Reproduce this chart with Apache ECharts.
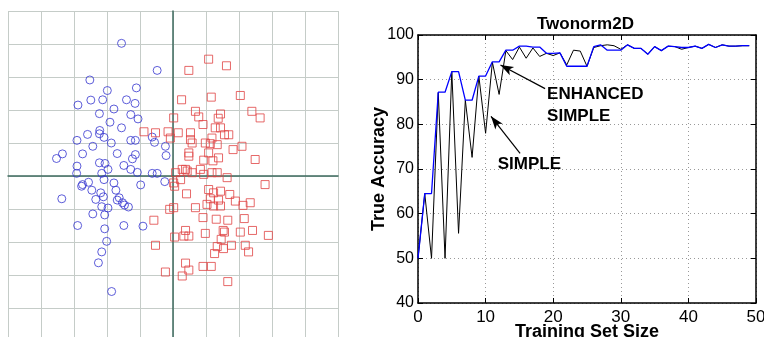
<!DOCTYPE html>
<html>
<head>
<meta charset="utf-8">
<script src="https://cdn.jsdelivr.net/npm/echarts@6/dist/echarts.min.js"></script>
<style>
  html, body { margin: 0; padding: 0; background: #fff; }
  #main { width: 764px; height: 337px; }
</style>
</head>
<body>
<div id="main"></div>
<script>
// left panel: two gaussian classes
var blueClass = [
    [-1.56, 4.02], [-0.48, 3.20], [-2.52, 2.91], [-1.99, 2.59], [-1.11, 2.67],
    [-2.88, 2.15], [-2.49, 2.30], [-2.13, 2.31], [-1.41, 2.31], [-1.15, 2.20],
    [-1.79, 2.03], [-2.23, 1.89], [-1.28, 1.86], [-1.06, 1.73], [-1.91, 1.63],
    [-2.22, 1.38], [-1.56, 1.46], [-2.23, 1.28], [-2.59, 1.26], [-2.09, 1.17],
    [-2.91, 1.08], [-1.87, 1.00], [-1.28, 1.08], [-1.14, 1.08], [-2.43, 0.90],
    [-0.63, 1.18], [-0.56, 1.02], [-2.74, 0.67], [-1.69, 0.68], [-3.35, 0.67],
    [-3.53, 0.53], [-1.14, 0.65], [-1.23, 0.52], [-0.23, 0.90], [-0.21, 0.62],
    [-2.91, 0.30], [-2.23, 0.40], [-2.06, 0.38], [-1.49, 0.32], [-2.92, 0.08],
    [-1.97, 0.20], [-2.16, 0.08], [-1.28, 0.20], [-1.08, 0.11], [-0.63, 0.08],
    [-0.48, 0.08], [-2.74, -0.26], [-2.77, -0.31], [-2.56, -0.19], [-2.09, -0.11],
    [-1.79, -0.21], [-0.98, -0.27], [-0.25, -0.17], [-3.37, -0.69], [-2.46, -0.43],
    [-2.19, -0.51], [-2.11, -0.63], [-2.34, -0.71], [-1.73, -0.43], [-1.69, -0.73],
    [-1.63, -0.66], [-1.53, -0.81], [-1.35, -0.94], [-1.47, -0.88], [-2.16, -0.93],
    [-1.97, -0.97], [-2.43, -1.15], [-2.07, -1.18], [-2.89, -1.50], [-2.07, -1.60],
    [-1.49, -1.50], [-0.91, -1.52], [-2.01, -1.98], [-2.16, -2.30], [-2.26, -2.63],
    [-1.86, -3.50]
];
var redClass = [
    [0.48, 3.20], [0.26, 2.31], [0.02, 1.76], [0.68, 1.96], [-0.88, 1.34],
    [-0.53, 1.31], [-0.15, 1.34], [0.16, 1.31], [0.53, 1.31], [-0.08, 1.15],
    [0.58, 1.00], [0.48, 0.60], [1.08, 3.54], [1.62, 3.34], [1.16, 2.39],
    [2.04, 2.44], [0.78, 1.79], [1.44, 1.88], [1.37, 1.75], [0.91, 1.56],
    [2.39, 1.96], [2.64, 1.76], [1.28, 1.46], [1.44, 1.46], [1.56, 1.25],
    [1.69, 1.25], [0.53, 1.10], [0.98, 1.00], [1.13, 0.98], [1.34, 0.95],
    [1.18, 1.15], [1.82, 0.80], [2.09, 0.90], [0.48, 0.70], [0.93, 0.48],
    [1.21, 0.46], [1.38, 0.55], [2.49, 0.50], [1.08, 0.70], [0.08, 0.10],
    [0.38, 0.20], [0.58, 0.10], [0.83, 0.20], [0.93, 0.05], [1.18, 0.10],
    [1.34, 0.10], [1.64, -0.05], [0.05, -0.31], [2.79, -0.26], [0.41, -0.54],
    [1.08, -0.41], [1.23, -0.51], [1.44, -0.46], [1.13, -0.69], [1.38, -0.73],
    [1.72, -0.56], [1.89, -0.76], [2.34, -0.81], [1.03, -0.86], [1.23, -0.91],
    [1.44, -0.91], [2.12, -0.89], [0.68, -0.96], [0.02, -0.96], [0.91, -1.26],
    [1.31, -1.31], [1.66, -1.34], [2.16, -1.29], [0.38, -1.65], [0.33, -1.82],
    [0.48, -1.82], [0.98, -1.74], [1.52, -1.65], [1.56, -1.70], [2.04, -1.70],
    [2.41, -1.65], [2.89, -1.80], [0.05, -1.85], [1.46, -1.92], [1.34, -2.14],
    [1.53, -2.20], [1.77, -2.10], [2.19, -2.10], [2.29, -2.30], [1.26, -2.35],
    [0.38, -2.64], [0.48, -2.85], [0.91, -2.74], [1.16, -2.74], [0.28, -3.03],
    [1.66, -3.20], [-0.58, -1.34], [-0.10, -1.01], [-0.53, -2.10], [-0.23, -2.91],
    [0.02, -0.21], [0.43, 0.15], [0.28, 0.20], [0.23, -0.11]
];

// right panel: Twonorm2D learning curves
var trainingSize = [0, 1, 2, 3, 4, 5, 6, 7, 8, 9, 10, 11, 12, 13, 14, 15, 16, 17, 18, 19,
    20, 21, 22, 23, 24, 25, 26, 27, 28, 29, 30, 31, 32, 33, 34, 35, 36, 37, 38, 39,
    40, 41, 42, 43, 44, 45, 46, 47, 48, 49];
var simpleAcc = [50, 64.5, 50, 87.1, 50, 91.8, 55.6, 85.4, 72.6, 90.8,
    78.0, 93.9, 86.7, 96.5, 94.5, 97.3, 94.8, 97.1, 95.2, 95.9,
    95.4, 96.0, 93.3, 96.6, 96.4, 93.0, 97.2, 97.6, 97.8, 97.6,
    96.8, 97.8, 97.0, 97.0, 95.7, 97.4, 96.5, 97.5, 97.4, 96.8,
    97.2, 97.5, 97.0, 97.9, 97.2, 97.8, 97.5, 97.5, 97.6, 97.6];
var enhancedAcc = [50, 64.5, 64.5, 87.2, 87.2, 91.8, 91.8, 85.4, 85.4, 90.8,
    90.8, 94.0, 94.0, 96.6, 96.6, 97.5, 97.5, 97.3, 97.3, 95.9,
    95.9, 96.0, 93.0, 93.0, 93.0, 93.0, 97.4, 97.8, 96.6, 96.6,
    96.6, 97.8, 97.0, 97.0, 95.7, 97.4, 96.5, 97.5, 97.4, 97.2,
    97.2, 97.5, 97.0, 97.9, 97.2, 97.8, 97.5, 97.5, 97.6, 97.6];

var font = 'Liberation Sans, Arial, Helvetica, sans-serif';

function zip(xs, ys) {
    var out = [];
    for (var i = 0; i < xs.length; i++) out.push([xs[i], ys[i]]);
    return out;
}

var myChart = echarts.init(document.getElementById('main'));
var option = {
    animation: false,
    backgroundColor: '#fff',
    textStyle: { fontFamily: font },
    title: {
        text: 'Twonorm2D',
        left: 537,
        top: 16,
        padding: 0,
        textStyle: { fontSize: 17, fontWeight: 'bold', color: '#000', fontFamily: font }
    },
    grid: [
        { left: 8, top: 11, width: 330, height: 330, outerBoundsMode: 'none', containLabel: false },
        { left: 418, top: 35, width: 338, height: 268, outerBoundsMode: 'none', containLabel: false }
    ],
    xAxis: [
        {
            gridIndex: 0, type: 'value', min: -5, max: 5, interval: 1,
            axisLine: { onZero: true, lineStyle: { color: '#3d6a5e', width: 1.5 } },
            axisTick: { show: false },
            axisLabel: { show: false },
            splitLine: { show: true, lineStyle: { color: '#c5ccc8', width: 1 } }
        },
        {
            gridIndex: 1, type: 'value', min: 0, max: 50, interval: 10,
            name: 'Training Set Size', nameLocation: 'middle', nameGap: 20, nameMoveOverlap: false,
            nameTextStyle: { fontSize: 18, fontWeight: 'bold', color: '#000', fontFamily: font },
            axisLine: { onZero: false, lineStyle: { color: '#000', width: 1.5 } },
            axisTick: { inside: true, length: 5, lineStyle: { color: '#000' } },
            axisLabel: { fontSize: 17, color: '#000', margin: 6, fontFamily: font },
            splitLine: { show: true, lineStyle: { color: '#999', width: 1, type: [1, 3] } }
        },
        {
            gridIndex: 1, type: 'value', min: 0, max: 50, interval: 10, position: 'top',
            axisLine: { onZero: false, lineStyle: { color: '#000', width: 1.5 } },
            axisTick: { inside: true, length: 5, lineStyle: { color: '#000' } },
            axisLabel: { show: false },
            splitLine: { show: false }
        }
    ],
    yAxis: [
        {
            gridIndex: 0, type: 'value', min: -5, max: 5, interval: 1,
            axisLine: { onZero: true, lineStyle: { color: '#3d6a5e', width: 1.5 } },
            axisTick: { show: false },
            axisLabel: { show: false },
            splitLine: { show: true, lineStyle: { color: '#c5ccc8', width: 1 } }
        },
        {
            gridIndex: 1, type: 'value', min: 40, max: 100, interval: 10,
            name: 'True Accuracy', nameLocation: 'middle', nameGap: 30, nameMoveOverlap: false,
            nameTextStyle: { fontSize: 18, fontWeight: 'bold', color: '#000', fontFamily: font },
            axisLine: { onZero: false, lineStyle: { color: '#000', width: 1.5 } },
            axisTick: { inside: true, length: 5, lineStyle: { color: '#000' } },
            axisLabel: { fontSize: 16, color: '#000', margin: 4, fontFamily: font },
            splitLine: { show: true, lineStyle: { color: '#999', width: 1, type: [1, 3] } }
        },
        {
            gridIndex: 1, type: 'value', min: 40, max: 100, interval: 10, position: 'right',
            axisLine: { onZero: false, lineStyle: { color: '#000', width: 1.5 } },
            axisTick: { inside: true, length: 5, lineStyle: { color: '#000' } },
            axisLabel: { show: false },
            splitLine: { show: false }
        }
    ],
    series: [
        {
            name: 'class1', type: 'scatter', xAxisIndex: 0, yAxisIndex: 0,
            data: blueClass, symbol: 'circle', symbolSize: 8,
            itemStyle: { color: 'transparent', borderColor: '#3434cf', borderWidth: 1 }
        },
        {
            name: 'class2', type: 'scatter', xAxisIndex: 0, yAxisIndex: 0,
            data: redClass, symbol: 'rect', symbolSize: 8,
            itemStyle: { color: 'transparent', borderColor: '#e04444', borderWidth: 1 }
        },
        {
            name: 'SIMPLE', type: 'line', xAxisIndex: 1, yAxisIndex: 1,
            data: zip(trainingSize, simpleAcc), showSymbol: false, symbol: 'none',
            lineStyle: { color: '#000', width: 1 },
            markLine: {
                silent: true, symbol: ['none', 'arrow'], symbolSize: [7, 13],
                label: { show: false },
                lineStyle: { color: '#000', width: 1.2, type: 'solid' },
                data: [
                    [{ coord: [18.8, 88.0] }, { coord: [12.2, 93.3] }],
                    [{ coord: [15.1, 73.5] }, { coord: [10.8, 81.8] }]
                ]
            },
            markPoint: {
                silent: true, symbolSize: 0,
                label: {
                    show: true, position: 'inside', align: 'left', verticalAlign: 'middle',
                    fontSize: 17, fontWeight: 'bold', color: '#000', lineHeight: 22, fontFamily: font
                },
                data: [
                    { coord: [19.1, 84.3], label: { formatter: 'ENHANCED\nSIMPLE' } },
                    { coord: [11.8, 71.1], label: { formatter: 'SIMPLE' } }
                ]
            }
        },
        {
            name: 'ENHANCED SIMPLE', type: 'line', xAxisIndex: 1, yAxisIndex: 1,
            data: zip(trainingSize, enhancedAcc), showSymbol: false, symbol: 'none',
            lineStyle: { color: '#0000ff', width: 1.3 }
        }
    ]
};
myChart.setOption(option);
</script>
</body>
</html>
